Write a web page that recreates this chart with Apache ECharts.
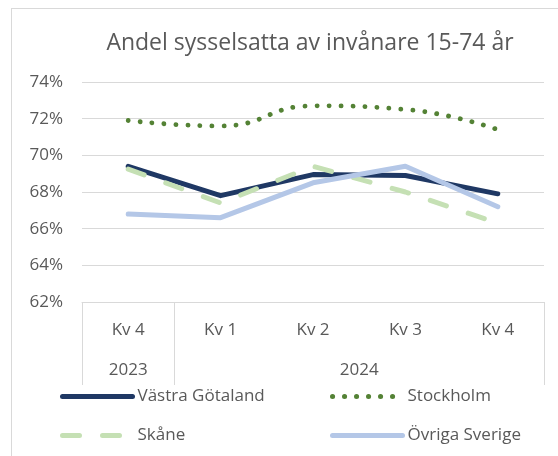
<!DOCTYPE html>
<html>
<head>
	<meta charset="utf-8">
	<title>Andel sysselsatta</title>
	<script src="https://cdn.jsdelivr.net/npm/echarts@6/dist/echarts.min.js"></script>
	<style type="text/css">
		body{ margin:0; overflow:hidden; }
		#frame{
			position:absolute; left:11px; top:8px; width:600px; height:500px;
			border:1px solid #d9d9d9;
		}
		#main{ position:absolute; left:0; top:0; width:558px; height:456px; }
	</style>
</head>
<body>
<div id="frame"></div>
<div id="main"></div>
<script type="text/javascript">
	// kvartal och år
	var quarters = ['Kv 4', 'Kv 1', 'Kv 2', 'Kv 3', 'Kv 4'];
	var years = ['2023', '2024'];
	var quartersPerYear = [1, 4];

	// andel sysselsatta, procent
	var vastraGotaland = [69.4, 67.8, 68.95, 68.9, 67.9];
	var stockholm = [71.9, 71.6, 72.7, 72.5, 71.4];
	var skane = [69.25, 67.4, 69.4, 68.0, 66.3];
	var ovrigaSverige = [66.8, 66.6, 68.5, 69.4, 67.2];

	var yTicks = [62, 64, 66, 68, 70, 72, 74];

	var textColor = '#595959';
	var fontFam = '"Open Sans", "Noto Sans", sans-serif';
	var fs = 17;

	// gränser och mittpunkter för årsgrupperna
	var bounds = [0], yearMid = [];
	var acc = 0;
	for(var i=0;i<quartersPerYear.length;i++){
		yearMid.push(acc + quartersPerYear[i]/2);
		acc += quartersPerYear[i];
		bounds.push(acc);
	}

	var legendBase = {
		orient: 'vertical',
		top: 383,
		itemWidth: 70,
		itemHeight: 14,
		itemGap: 22,
		itemStyle: { opacity: 0 },
		lineStyle: { width: 5 },
		textStyle: { color: textColor, fontSize: fs, fontFamily: fontFam }
	};

	var myChart = echarts.init(document.getElementById('main'));

	var option = {
		animation: false,
		title: {
			text: 'Andel sysselsatta av invånare 15-74 år',
			left: 305,
			top: 27,
			textAlign: 'center',
			textStyle: { color: textColor, fontSize: 23, fontWeight: 'normal', fontFamily: fontFam }
		},
		grid: { left: 82, right: 14, top: 82, bottom: 154 },
		legend: [
			Object.assign({}, legendBase, { left: 55, data: ['Västra Götaland', 'Skåne'] }),
			Object.assign({}, legendBase, { left: 325, data: ['Stockholm', 'Övriga Sverige'] })
		],
		xAxis: [{
			type: 'category',
			data: quarters,
			boundaryGap: true,
			axisLine: { show: true, lineStyle: { color: '#d9d9d9' } },
			axisTick: { show: false },
			axisLabel: { color: textColor, fontSize: fs, fontFamily: fontFam, margin: 20 }
		}, {
			type: 'value',
			min: 0,
			max: acc,
			position: 'bottom',
			axisLine: { show: false },
			splitLine: { show: false },
			axisTick: {
				show: true,
				customValues: bounds,
				length: 83,
				lineStyle: { color: '#d9d9d9' }
			},
			axisLabel: {
				customValues: yearMid,
				color: textColor,
				fontSize: fs,
				fontFamily: fontFam,
				margin: 60,
				formatter: function(v){
					var idx = yearMid.indexOf(v);
					return idx >= 0 ? years[idx] : '';
				}
			}
		}],
		yAxis: {
			type: 'value',
			min: yTicks[0],
			max: yTicks[yTicks.length-1],
			interval: 2,
			axisLine: { show: false },
			axisTick: { show: false },
			splitLine: { lineStyle: { color: '#d9d9d9', width: 1 } },
			axisLabel: { color: textColor, fontSize: fs, fontFamily: fontFam, margin: 19, formatter: '{value}%' }
		},
		series: [{
			name: 'Västra Götaland',
			type: 'line',
			data: vastraGotaland,
			symbol: 'none',
			color: '#1f3864',
			lineStyle: { width: 5, color: '#1f3864', cap: 'round', join: 'round' }
		}, {
			name: 'Stockholm',
			type: 'line',
			data: stockholm,
			symbol: 'none',
			smooth: 0.5,
			color: '#548235',
			lineStyle: { width: 4.8, color: '#548235', type: [0.1, 11.9], cap: 'round' }
		}, {
			name: 'Skåne',
			type: 'line',
			data: skane,
			symbol: 'none',
			color: '#c5e0b4',
			lineStyle: { width: 5, color: '#c5e0b4', type: [17, 23], cap: 'round' }
		}, {
			name: 'Övriga Sverige',
			type: 'line',
			data: ovrigaSverige,
			symbol: 'none',
			color: '#b4c7e7',
			lineStyle: { width: 5, color: '#b4c7e7', cap: 'round', join: 'round' }
		}]
	};

	myChart.setOption(option);
</script>
</body>
</html>
